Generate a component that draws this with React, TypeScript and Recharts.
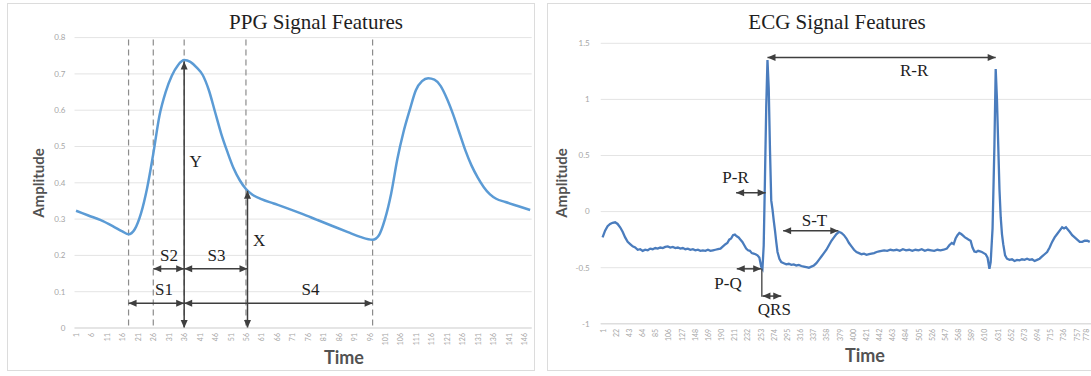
import React from "react"
import { LineChart, Line, XAxis, YAxis, CartesianGrid, ReferenceLine, ReferenceDot } from "recharts"

// PPG signal (sample index, amplitude)
const ppgTime = [1, 5, 9, 13, 16, 18, 20, 22, 24, 26, 28, 30, 32, 34, 36, 38, 40, 42, 44, 46, 48, 50, 52, 54, 56, 58, 61, 65, 69, 74, 79, 84, 89, 93, 97, 99, 101, 103, 105, 107, 109, 111, 113, 115, 117, 119, 121, 123, 125, 127, 129, 131, 133, 135, 137, 140, 144, 148]
const ppgAmp = [0.323, 0.31, 0.297, 0.28, 0.266, 0.258, 0.272, 0.315, 0.385, 0.48, 0.585, 0.65, 0.695, 0.724, 0.738, 0.733, 0.718, 0.697, 0.655, 0.595, 0.535, 0.485, 0.44, 0.407, 0.383, 0.368, 0.355, 0.343, 0.331, 0.315, 0.298, 0.281, 0.264, 0.251, 0.243, 0.255, 0.3, 0.37, 0.465, 0.54, 0.6, 0.655, 0.68, 0.688, 0.684, 0.667, 0.633, 0.59, 0.54, 0.49, 0.448, 0.415, 0.388, 0.368, 0.356, 0.347, 0.336, 0.325]
const ppgTicks = [1, 6, 11, 16, 21, 26, 31, 36, 41, 46, 51, 56, 61, 66, 71, 76, 81, 86, 91, 96, 101, 106, 111, 116, 121, 126, 131, 136, 141, 146]
const ppgYTicks = [0, 0.1, 0.2, 0.3, 0.4, 0.5, 0.6, 0.7, 0.8]

// ECG signal (sample index, amplitude)
const ecgTime = [1, 5, 9, 13, 17, 21, 25, 29, 33, 37, 41, 45, 49, 53, 57, 61, 65, 69, 73, 77, 81, 85, 89, 93, 97, 101, 105, 109, 113, 117, 121, 125, 129, 133, 137, 141, 145, 149, 153, 157, 161, 165, 169, 173, 177, 181, 185, 189, 193, 197, 200, 203, 206, 209, 212, 215, 218, 221, 224, 227, 230, 233, 236, 239, 242, 245, 248, 251, 254, 256, 258, 260, 262, 264, 266, 268, 270, 272, 274, 276, 278, 280, 283, 286, 290, 294, 298, 302, 306, 310, 314, 318, 322, 326, 330, 334, 338, 342, 346, 350, 354, 358, 362, 366, 370, 374, 378, 382, 386, 390, 394, 398, 402, 406, 410, 414, 418, 422, 426, 430, 434, 438, 442, 446, 450, 455, 460, 465, 470, 475, 480, 485, 490, 495, 500, 505, 510, 515, 520, 525, 530, 535, 540, 545, 550, 554, 558, 561, 564, 567, 570, 573, 576, 579, 582, 585, 588, 591, 594, 597, 600, 603, 606, 609, 612, 615, 618, 620, 623, 626, 628, 630, 632, 634, 636, 638, 640, 643, 646, 650, 654, 658, 662, 666, 670, 674, 678, 682, 686, 690, 694, 698, 702, 706, 710, 714, 718, 722, 726, 730, 734, 737, 740, 743, 746, 750, 754, 758, 762, 766, 770, 774, 778]
const ecgAmp = [-0.23, -0.17, -0.13, -0.11, -0.1, -0.095, -0.11, -0.14, -0.18, -0.23, -0.27, -0.29, -0.31, -0.32, -0.34, -0.335, -0.35, -0.34, -0.345, -0.33, -0.335, -0.325, -0.33, -0.32, -0.325, -0.315, -0.31, -0.32, -0.315, -0.325, -0.32, -0.33, -0.325, -0.335, -0.33, -0.34, -0.335, -0.345, -0.34, -0.35, -0.345, -0.35, -0.34, -0.35, -0.345, -0.34, -0.335, -0.33, -0.31, -0.29, -0.28, -0.25, -0.24, -0.21, -0.205, -0.22, -0.23, -0.25, -0.27, -0.3, -0.33, -0.345, -0.35, -0.37, -0.375, -0.38, -0.39, -0.41, -0.49, -0.51, -0.3, 0.3, 0.93, 1.35, 1.1, 0.55, 0.1, 0.02, -0.08, -0.17, -0.27, -0.36, -0.42, -0.45, -0.46, -0.47, -0.465, -0.475, -0.47, -0.48, -0.475, -0.485, -0.49, -0.495, -0.5, -0.49, -0.48, -0.46, -0.43, -0.4, -0.37, -0.34, -0.3, -0.26, -0.23, -0.2, -0.18, -0.19, -0.21, -0.24, -0.28, -0.31, -0.34, -0.36, -0.37, -0.38, -0.375, -0.385, -0.38, -0.375, -0.37, -0.36, -0.355, -0.35, -0.345, -0.35, -0.34, -0.345, -0.34, -0.35, -0.335, -0.345, -0.34, -0.35, -0.34, -0.345, -0.335, -0.35, -0.34, -0.345, -0.35, -0.34, -0.345, -0.34, -0.33, -0.3, -0.28, -0.29, -0.24, -0.21, -0.19, -0.2, -0.215, -0.23, -0.24, -0.25, -0.26, -0.32, -0.355, -0.36, -0.35, -0.355, -0.36, -0.37, -0.38, -0.41, -0.51, -0.45, -0.15, 0.6, 1.27, 1.0, 0.6, 0.2, -0.05, -0.2, -0.29, -0.39, -0.42, -0.43, -0.425, -0.44, -0.43, -0.435, -0.425, -0.43, -0.42, -0.43, -0.425, -0.44, -0.43, -0.42, -0.4, -0.38, -0.36, -0.32, -0.27, -0.23, -0.2, -0.17, -0.14, -0.15, -0.14, -0.16, -0.18, -0.21, -0.23, -0.25, -0.27, -0.27, -0.26, -0.26, -0.27]
const ecgTicks = [1, 22, 43, 64, 85, 106, 127, 148, 169, 190, 211, 232, 253, 274, 295, 316, 337, 358, 379, 400, 421, 442, 463, 484, 505, 526, 547, 568, 589, 610, 631, 652, 673, 694, 715, 736, 757, 778]
const ecgYTicks = [-1, -0.5, 0, 0.5, 1, 1.5]

// feature markers (sample index)
const ppgMarkers = [18, 26, 36, 56, 97]
const ecgMarkers = [214, 263, 288, 378, 629]

// double arrows: [x1, y1, x2, y2] in data units
const ppgArrows = [
  [36, 0.734, 36, 0],
  [56.5, 0.378, 56.5, 0],
  [26, 0.163, 36, 0.163],
  [36, 0.163, 56.5, 0.163],
  [18, 0.068, 36, 0.068],
  [36, 0.068, 97, 0.068],
]
const ppgLabels = [
  { text: "Y", x: 39.7, y: 0.46 },
  { text: "X", x: 60.3, y: 0.242 },
  { text: "S2", x: 31.1, y: 0.201 },
  { text: "S3", x: 46.5, y: 0.201 },
  { text: "S1", x: 29.5, y: 0.107 },
  { text: "S4", x: 76.9, y: 0.107 },
]

const ecgArrows = [
  [264, 1.374, 628, 1.374],
  [214, 0.168, 261, 0.168],
  [215, -0.51, 254, -0.51],
  [256, -0.753, 286, -0.753],
  [289, -0.171, 377, -0.171],
]
const ecgLabels = [
  { text: "R-R", x: 498, y: 1.26 },
  { text: "P-R", x: 213, y: 0.305 },
  { text: "P-Q", x: 201, y: -0.64 },
  { text: "QRS", x: 275, y: -0.872 },
  { text: "S-T", x: 339, y: -0.076 },
]

const ppgData = ppgTime.map((t, i) => ({ t, v: ppgAmp[i] }))
const ecgData = ecgTime.map((t, i) => ({ t, v: ecgAmp[i] }))

const ARROW = "#3f3f3f"
const DASH = "#8c8c8c"
const GRID = "#e4e4e4"
const TICK = "#a6a6a6"
const SERIF = "'Liberation Serif', 'Times New Roman', serif"
const SANS = "Lato, 'Open Sans', sans-serif"

const DoubleArrow = (props: any) => {
  const { x1, y1, x2, y2 } = props
  const dx = x2 - x1
  const dy = y2 - y1
  const len = Math.hypot(dx, dy) || 1
  const ux = dx / len
  const uy = dy / len
  const L = 8
  const W = 3.5
  const head = (x: number, y: number, dir: number) => {
    const bx = x - dir * ux * L
    const by = y - dir * uy * L
    return `${x},${y} ${bx - uy * W},${by + ux * W} ${bx + uy * W},${by - ux * W}`
  }
  return (
    <g>
      <line x1={x1} y1={y1} x2={x2} y2={y2} stroke={ARROW} strokeWidth={1.5} />
      <polygon points={head(x2, y2, 1)} fill={ARROW} />
      <polygon points={head(x1, y1, -1)} fill={ARROW} />
    </g>
  )
}

const labelShape = (text: string) => (props: any) => (
  <text x={props.cx} y={props.cy} textAnchor="middle" dominantBaseline="central" fontFamily={SERIF} fontSize={17} fill="#1e1e1e">
    {text}
  </text>
)

// rotated category labels; the last one is nudged in so it is not clipped by the panel edge
const VTick = (props: any) => {
  const { y, payload, maxX } = props
  const x = maxX ? Math.min(props.x, maxX) : props.x
  return (
    <text x={x} y={y} transform={`rotate(-90 ${x} ${y})`} textAnchor="end" dominantBaseline="central" fontSize={7} fontFamily={SANS} fill={TICK}>
      {payload.value}
    </text>
  )
}

const Title = ({ text, cx }: { text: string; cx: number }) => (
  <div style={{ position: "absolute", left: cx - 150, top: 10, width: 300, textAlign: "center", fontFamily: SERIF, fontSize: 21, lineHeight: "24px", color: "#1e1e1e" }}>
    {text}
  </div>
)

const AxisTitle = ({ text, cx, cy, rotate, size }: { text: string; cx: number; cy: number; rotate?: boolean; size: number }) => (
  <div
    style={{
      position: "absolute",
      left: cx - 60,
      top: cy - 12,
      width: 120,
      height: 24,
      lineHeight: "24px",
      textAlign: "center",
      fontFamily: SANS,
      fontWeight: 700,
      fontSize: size,
      color: "#525252",
      transform: rotate ? "rotate(-90deg)" : undefined,
    }}
  >
    {text}
  </div>
)

export default function App() {
  return (
    <div style={{ position: "absolute", left: 0, top: 0, width: 1091, height: 376, background: "#fff", overflow: "hidden" }}>
      {/* panel frames */}
      <div style={{ position: "absolute", left: 7, top: 3, width: 526, height: 366, border: "1px solid #dcdcdc" }} />
      <div style={{ position: "absolute", left: 547, top: 3, width: 560, height: 366, border: "1px solid #dcdcdc" }} />

      <div style={{ position: "absolute", left: 0, top: 0 }}>
        <LineChart width={545} height={376} data={ppgData} margin={{ top: 37.6, right: 13.3, bottom: 18, left: 14.5 }}>
          <CartesianGrid vertical={false} stroke={GRID} />
          <XAxis dataKey="t" type="number" domain={[0.5, 148.5]} ticks={ppgTicks} interval={0} height={30} tick={<VTick />} tickLine={false} tickSize={3} tickMargin={2} axisLine={{ stroke: "#d9d9d9" }} />
          <YAxis type="number" domain={[0, 0.8]} ticks={ppgYTicks} width={60} tickLine={false} axisLine={false} tickSize={0} tickMargin={9} tick={{ fontSize: 8, fill: TICK, fontFamily: SANS }} />
          {ppgMarkers.map((m) => (
            <ReferenceLine key={`pm-${m}`} segment={[{ x: m, y: 0.795 }, { x: m, y: 0 }]} stroke={DASH} strokeWidth={1.2} strokeDasharray="6 4" />
          ))}
          <Line type="monotone" dataKey="v" stroke="#5b9bd5" strokeWidth={2.5} dot={false} isAnimationActive={false} />
          {ppgArrows.map((a, i) => (
            <ReferenceLine key={`pa-${i}`} segment={[{ x: a[0], y: a[1] }, { x: a[2], y: a[3] }]} shape={DoubleArrow} />
          ))}
          {ppgLabels.map((l) => (
            <ReferenceDot key={`pl-${l.text}`} x={l.x} y={l.y} r={0} shape={labelShape(l.text)} />
          ))}
        </LineChart>
      </div>

      <div style={{ position: "absolute", left: 545, top: 0 }}>
        <LineChart width={546} height={376} data={ecgData} margin={{ top: 43.3, right: 0, bottom: 22.2, left: 10.7 }}>
          <CartesianGrid vertical={false} stroke={GRID} />
          <XAxis dataKey="t" type="number" domain={[-2, 780]} ticks={ecgTicks} interval={0} height={30} tick={<VTick maxX={541} />} tickLine={false} tickSize={3} tickMargin={2} axisLine={{ stroke: "#d9d9d9" }} allowDataOverflow />
          <YAxis type="number" domain={[-1, 1.5]} ticks={ecgYTicks} width={45} tickLine={false} axisLine={false} tickSize={0} tickMargin={11} tick={{ fontSize: 8, fill: TICK, fontFamily: SANS }} />
          {ecgMarkers.map((m) => (
            <ReferenceLine key={`em-${m}`} segment={[{ x: m, y: 1.54 }, { x: m, y: -1 }]} stroke={DASH} strokeWidth={1.2} strokeDasharray="6 4" />
          ))}
          <Line type="linear" dataKey="v" stroke="#4a7cbd" strokeWidth={2.3} dot={false} isAnimationActive={false} />
          <ReferenceLine segment={[{ x: 255, y: -0.51 }, { x: 255, y: -0.76 }]} stroke={ARROW} strokeWidth={1.3} />
          {ecgArrows.map((a, i) => (
            <ReferenceLine key={`ea-${i}`} segment={[{ x: a[0], y: a[1] }, { x: a[2], y: a[3] }]} shape={DoubleArrow} />
          ))}
          {ecgLabels.map((l) => (
            <ReferenceDot key={`el-${l.text}`} x={l.x} y={l.y} r={0} shape={labelShape(l.text)} />
          ))}
        </LineChart>
      </div>

      <Title text="PPG Signal Features" cx={316} />
      <Title text="ECG Signal Features" cx={837} />
      <AxisTitle text="Amplitude" cx={37.5} cy={183} rotate size={15} />
      <AxisTitle text="Amplitude" cx={560.5} cy={183} rotate size={15} />
      <AxisTitle text="Time" cx={344} cy={357} size={18} />
      <AxisTitle text="Time" cx={865} cy={355} size={18} />
    </div>
  )
}
